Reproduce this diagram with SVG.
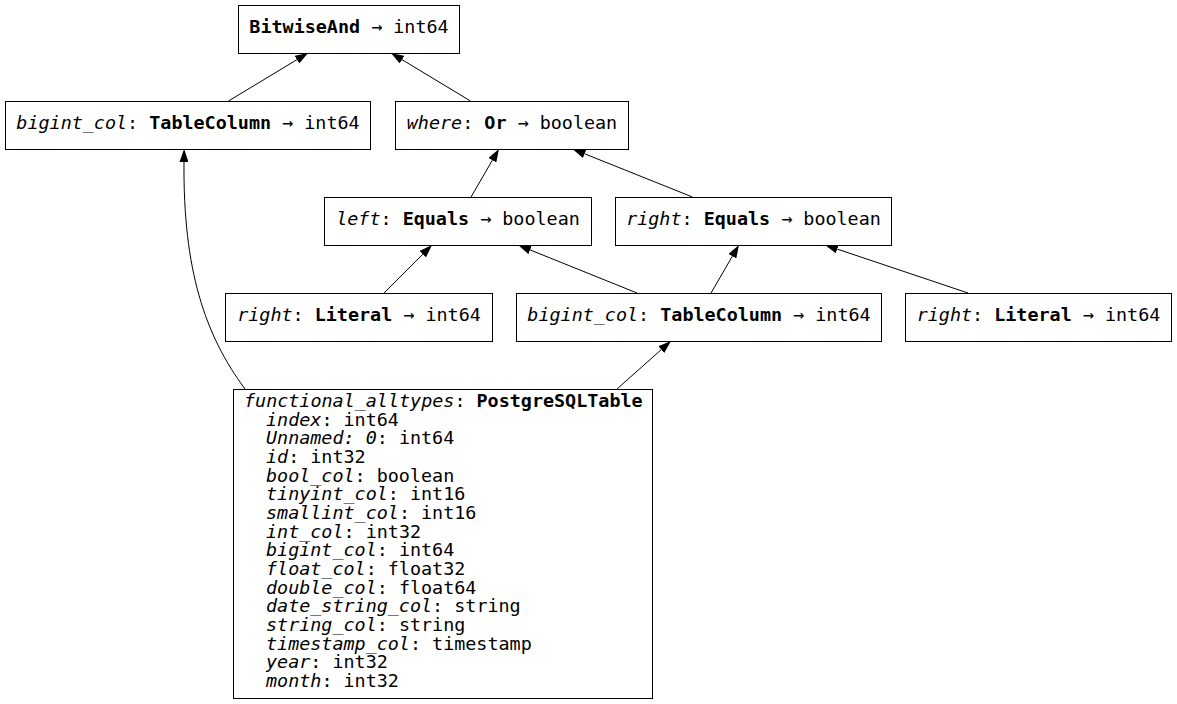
<svg xmlns="http://www.w3.org/2000/svg" width="1177" height="704" viewBox="0 0 1177 704">
<style>
.box{fill:#fff;stroke:#000;stroke-width:1}
text{font-family:"DejaVu Sans Mono","Liberation Mono",monospace;font-size:18.4px;fill:#000}
.c{text-anchor:middle}
.i{font-style:italic}
.b{font-weight:bold}
.e{fill:none;stroke:#000;stroke-width:1;marker-end:url(#ah)}
</style>
<defs>
<marker id="ah" viewBox="0 0 13 9" refX="0" refY="4.5" markerWidth="13" markerHeight="9" markerUnits="userSpaceOnUse" orient="auto">
<path d="M0,0 L13,4.5 L0,9 z" fill="#000"/>
</marker>
</defs>
<rect width="1177" height="704" fill="#fff"/>
<g id="connectors">
<path class="e" d="M228.5,101 L296.9,59.7"/>
<path class="e" d="M470.5,101 L402.1,59.7"/>
<path class="e" d="M471,197 L492.4,160.2"/>
<path class="e" d="M692.5,197 L584.6,153.8"/>
<path class="e" d="M384,293 L422.8,254.2"/>
<path class="e" d="M637,293 L530.1,249.9"/>
<path class="e" d="M711,293 L732.4,256.2"/>
<path class="e" d="M968,293 L837.3,249.1"/>
<path class="e" d="M617,389 L661.3,349.6"/>
<path class="e" d="M245,389 C205,335 183,270 184,162"/>
</g>
<g id="bitwiseand">
<rect class="box" x="238.5" y="5.5" width="221" height="48"/>
<text class="c" x="349" y="33"><tspan class="b">BitwiseAnd</tspan> → int64</text>
</g>
<g id="bigint_col_top">
<rect class="box" x="5.5" y="101.5" width="365" height="48"/>
<text class="c" x="188" y="129"><tspan class="i">bigint_col</tspan>: <tspan class="b">TableColumn</tspan> → int64</text>
</g>
<g id="where_or">
<rect class="box" x="395.5" y="101.5" width="233" height="48"/>
<text class="c" x="512" y="129"><tspan class="i">where</tspan>: <tspan class="b">Or</tspan> → boolean</text>
</g>
<g id="left_equals">
<rect class="box" x="324.5" y="197.5" width="267" height="48"/>
<text class="c" x="458" y="225"><tspan class="i">left</tspan>: <tspan class="b">Equals</tspan> → boolean</text>
</g>
<g id="right_equals">
<rect class="box" x="615.5" y="197.5" width="276" height="48"/>
<text class="c" x="753.5" y="225"><tspan class="i">right</tspan>: <tspan class="b">Equals</tspan> → boolean</text>
</g>
<g id="right_literal_left">
<rect class="box" x="225.5" y="293.5" width="267" height="48"/>
<text class="c" x="359" y="321"><tspan class="i">right</tspan>: <tspan class="b">Literal</tspan> → int64</text>
</g>
<g id="bigint_col_mid">
<rect class="box" x="516.5" y="293.5" width="365" height="48"/>
<text class="c" x="699" y="321"><tspan class="i">bigint_col</tspan>: <tspan class="b">TableColumn</tspan> → int64</text>
</g>
<g id="right_literal_right">
<rect class="box" x="905.5" y="293.5" width="266" height="48"/>
<text class="c" x="1038.5" y="321"><tspan class="i">right</tspan>: <tspan class="b">Literal</tspan> → int64</text>
</g>
<g id="functional_alltypes">
<rect class="box" x="233.5" y="389.5" width="419" height="309"/>
<text x="244" y="407"><tspan class="i">functional_alltypes</tspan>: <tspan class="b">PostgreSQLTable</tspan></text>
<text x="266" y="425.7"><tspan class="i">index</tspan>: int64</text>
<text x="266" y="444.3"><tspan class="i">Unnamed: 0</tspan>: int64</text>
<text x="266" y="463"><tspan class="i">id</tspan>: int32</text>
<text x="266" y="481.7"><tspan class="i">bool_col</tspan>: boolean</text>
<text x="266" y="500.3"><tspan class="i">tinyint_col</tspan>: int16</text>
<text x="266" y="519"><tspan class="i">smallint_col</tspan>: int16</text>
<text x="266" y="537.7"><tspan class="i">int_col</tspan>: int32</text>
<text x="266" y="556.3"><tspan class="i">bigint_col</tspan>: int64</text>
<text x="266" y="575"><tspan class="i">float_col</tspan>: float32</text>
<text x="266" y="593.7"><tspan class="i">double_col</tspan>: float64</text>
<text x="266" y="612.3"><tspan class="i">date_string_col</tspan>: string</text>
<text x="266" y="631"><tspan class="i">string_col</tspan>: string</text>
<text x="266" y="649.7"><tspan class="i">timestamp_col</tspan>: timestamp</text>
<text x="266" y="668.3"><tspan class="i">year</tspan>: int32</text>
<text x="266" y="687"><tspan class="i">month</tspan>: int32</text>
</g>
</svg>
